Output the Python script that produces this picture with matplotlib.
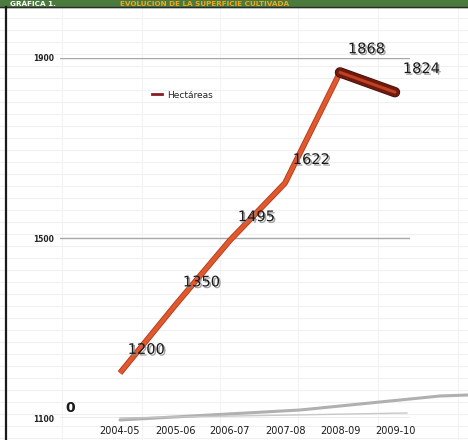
import matplotlib
matplotlib.use("Agg")
import matplotlib.pyplot as plt
import matplotlib.patheffects as pe
from matplotlib.lines import Line2D

# ---- data ----
categories = ["2004-05", "2005-06", "2006-07", "2007-08", "2008-09", "2009-10"]
hectareas = [1200, 1350, 1495, 1622, 1868, 1824]
y_ticks = [1100, 1500, 1900]
series_name = "Hectáreas"
zero_label = "0"
header_white = "GRÁFICA 1."
header_orange = "EVOLUCIÓN DE LA SUPERFICIE CULTIVADA"

W, H = 468, 440
fig = plt.figure(figsize=(W / 100, H / 100), dpi=100)
fig.patch.set_facecolor("white")

# ---- background (spreadsheet-like faint grid, frame, header) ----
bg = fig.add_axes([0, 0, 1, 1])
bg.set_xlim(0, W)
bg.set_ylim(H, 0)
bg.axis("off")
for yy in range(18, H, 12):
    bg.axhline(yy, color="#f0f0f0", lw=0.8, zorder=0)
for xx in [62, 142, 220, 298, 378, 458]:
    bg.axvline(xx, color="#f3f3f3", lw=0.8, zorder=0)
bg.add_patch(plt.Rectangle((0, 0), W, 7.5, color="#4a7a3c", zorder=2))
bg.plot([0, W], [7.5, 7.5], color="#2b2b2b", lw=1.0, zorder=3)
bg.plot([5.5, 5.5], [7.5, H], color="#1a1a1a", lw=1.6, zorder=3)
# 3D floor edges
bg.plot([120, 300, 440, 468], [420, 410, 396, 395], color="#b0b0b0", lw=2.2,
        solid_capstyle="round", zorder=1)
bg.plot([120, 407], [418, 413], color="#c8c8c8", lw=1.0, zorder=1)

fig.text(10 / W, 1 - 3.6 / H, header_white, color="white", fontsize=5.2,
         fontweight="bold", va="center", ha="left", family="DejaVu Sans",
         zorder=4)
fig.text(120 / W, 1 - 3.6 / H, header_orange, color="#f0a81c", fontsize=5.2,
         fontweight="bold", va="center", ha="left", family="DejaVu Sans",
         zorder=4)

# ---- main axes ----
ax = fig.add_axes([60 / W, (H - 418) / H, 350 / W, 360 / H])
ax.patch.set_alpha(0)
x = list(range(len(categories)))
ax.set_xlim(-60 / 55, 5 + 15 / 55)
ax.set_ylim(1100, 1900)
for s in ax.spines.values():
    s.set_visible(False)
ax.set_yticks(y_ticks)
ax.set_yticklabels([str(v) for v in y_ticks], fontsize=5.5, color="#222222",
                   fontweight="bold")
ax.set_xticks(x)
ax.set_xticklabels(categories, fontsize=7, color="#1a1a1a")
ax.tick_params(axis="both", length=0)
ax.tick_params(axis="y", pad=4)
ax.tick_params(axis="x", pad=6)
ax.grid(axis="y", color="#a8a8a8", lw=1.0)
ax.grid(axis="x", visible=False)

ax.plot(x, hectareas, color="#e0582c", lw=3.0, solid_capstyle="butt",
        path_effects=[pe.Stroke(linewidth=4.2, foreground="#b03a1c"),
                      pe.Normal()], zorder=5)
ax.plot(x[4:], hectareas[4:], color="#6e1a10", lw=6.5, solid_capstyle="round",
        path_effects=[pe.Stroke(linewidth=7.5, foreground="#3a0d08"),
                      pe.Normal()], zorder=6)
ax.plot(x[4:], hectareas[4:], color="#c0401f", lw=2.2, solid_capstyle="round",
        zorder=7)

shadow = [pe.SimplePatchShadow(offset=(1.2, -1.2), shadow_rgbFace="#888888",
                               alpha=0.8), pe.Normal()]
for xi, v in zip(x, hectareas):
    ax.annotate(str(v), (xi, v), xytext=(19, 17), textcoords="offset points",
                ha="center", va="center", fontsize=10.5, color="#1a1a1a",
                path_effects=shadow, zorder=8, annotation_clip=False)

ax.annotate(zero_label, (-0.9, 1100), xytext=(0, 7), textcoords="offset points",
            ha="center", va="center", fontsize=10, color="#1a1a1a",
            fontweight="bold", annotation_clip=False)

handle = Line2D([], [], color="#8a1c24", lw=2.0)
ax.legend([handle], [series_name], loc="center left",
          bbox_to_anchor=(0.24, 0.897), frameon=False, fontsize=6.5,
          handlelength=1.1, handletextpad=0.6, labelcolor="#222222")

fig.savefig("out.png", dpi=100)
